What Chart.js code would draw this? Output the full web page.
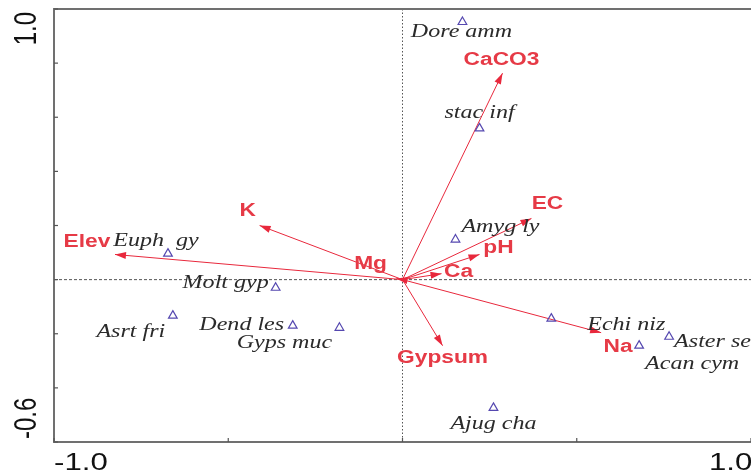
<!DOCTYPE html>
<html>
<head>
<meta charset="utf-8">
<script src="https://cdn.jsdelivr.net/npm/chart.js@4/dist/chart.umd.min.js"></script>
<style>
  html, body { margin: 0; padding: 0; background: #fff; }
  #wrap { width: 751px; height: 473px; }
</style>
</head>
<body>
<div id="wrap"><canvas id="cca" width="751" height="473"></canvas></div>
<script>
// species scores (axis 1, axis 2)
const speciesNames = ["Dore amm", "stac inf", "Amyg ly", "Euph  gy", "Molt gyp", "Asrt fri",
  "Dend les", "Gyps muc", "Echi niz", "Acan cym", "Aster se", "Ajug cha"];
const speciesX = [0.172, 0.221, 0.152, -0.673, -0.364, -0.659, -0.315, -0.181, 0.427, 0.679, 0.765, 0.261];
const speciesY = [0.952, 0.559, 0.148, 0.096, -0.030, -0.133, -0.170, -0.178, -0.144, -0.244, -0.211, -0.474];

// environmental variable arrows (tip coordinates)
const envNames = ["CaCO3", "EC", "pH", "Ca", "Mg", "Elev", "K", "Gypsum", "Na"];
const envX = [0.287, 0.370, 0.221, 0.112, -0.017, -0.825, -0.410, 0.115, 0.570];
const envY = [0.763, 0.226, 0.093, 0.022, 0.004, 0.093, 0.200, -0.244, -0.196];

const xTicks = [-1.0, -0.5, 0, 0.5, 1.0];
const yTicks = [1.0, 0.8, 0.6, 0.4, 0.2, 0, -0.2, -0.4, -0.6];
const xTickLabels = ["-1.0", "1.0"];
const yTickLabels = ["1.0", "-0.6"];

// label placement (pixel offsets from the mark), layout only
const speciesLabelOffset = [[-1, 10], [0, -15], [45, -12], [-12, -13], [-50, -5], [-42, 17],
  [-51, 0], [-55, 15], [75, 7], [53, 18], [null, 5], [0, 16]];
const envLabelOffset = [[-1, -13], [16, -14], [19, -6], [17, -1], [-26, -14], [-28, -12], [-12, -14], [0, 13], [17, 15]];

const SX = 1.3; // horizontal stretch of the original picture's text
const RED_LINE = "#e8283c";
const RED_TEXT = "#e63a46";
const AXIS = "#707070";

function stretchedText(ctx, text, x, y, font, color, align) {
  ctx.save();
  ctx.translate(x, y);
  ctx.scale(SX, 1);
  ctx.font = font;
  ctx.fillStyle = color;
  ctx.textAlign = align || "center";
  ctx.textBaseline = "middle";
  ctx.fillText(text, 0, 0);
  ctx.restore();
}

const ordination = {
  id: "ordination",
  beforeDatasetsDraw(chart) {
    const { ctx, chartArea: a, scales: { x, y } } = chart;
    const x0 = x.getPixelForValue(0), y0 = y.getPixelForValue(0);
    ctx.save();
    // zero lines
    ctx.strokeStyle = "#555";
    ctx.lineWidth = 1;
    ctx.setLineDash([1.5, 2]);
    ctx.beginPath(); ctx.moveTo(x0, a.top); ctx.lineTo(x0, a.bottom); ctx.stroke();
    ctx.setLineDash([3, 2]);
    ctx.beginPath(); ctx.moveTo(a.left, y0); ctx.lineTo(a.right, y0); ctx.stroke();
    ctx.setLineDash([]);
    // frame
    ctx.strokeStyle = AXIS;
    ctx.lineWidth = 2;
    ctx.beginPath();
    ctx.moveTo(a.right + 2, a.top); ctx.lineTo(a.left, a.top); ctx.lineTo(a.left, a.bottom); ctx.lineTo(a.right + 2, a.bottom);
    ctx.stroke();
    // inward ticks
    ctx.lineWidth = 1.2;
    ctx.strokeStyle = "#555";
    yTicks.forEach(v => {
      const py = y.getPixelForValue(v);
      ctx.beginPath(); ctx.moveTo(a.left, py); ctx.lineTo(a.left + 4, py); ctx.stroke();
    });
    xTicks.forEach(v => {
      const px = x.getPixelForValue(v);
      ctx.beginPath(); ctx.moveTo(px, a.bottom); ctx.lineTo(px, a.bottom - 4); ctx.stroke();
    });
    // tick labels (only extremes, as in the original)
    const tf = "24px Arial, 'Liberation Sans', sans-serif";
    stretchedText(ctx, xTickLabels[0], x.getPixelForValue(-1.0), a.bottom + 21, tf, "#111", "left");
    stretchedText(ctx, xTickLabels[1], x.getPixelForValue(1.0) - 42, a.bottom + 21, tf, "#111", "left");
    [[yTickLabels[0], y.getPixelForValue(1.0) + 3, "right"], [yTickLabels[1], y.getPixelForValue(-0.6) - 3, "left"]].forEach(([t, py, al]) => {
      ctx.save();
      ctx.translate(a.left - 27, py);
      ctx.scale(SX, 1);
      ctx.rotate(-Math.PI / 2);
      ctx.font = tf;
      ctx.fillStyle = "#111";
      ctx.textAlign = al;
      ctx.textBaseline = "middle";
      ctx.fillText(t, 0, 0);
      ctx.restore();
    });
    // arrows
    envNames.forEach((n, i) => {
      const tx = x.getPixelForValue(envX[i]), ty = y.getPixelForValue(envY[i]);
      const ang = Math.atan2(ty - y0, tx - x0);
      ctx.strokeStyle = RED_LINE;
      ctx.lineWidth = 1;
      ctx.beginPath(); ctx.moveTo(x0, y0); ctx.lineTo(tx, ty); ctx.stroke();
      ctx.fillStyle = RED_LINE;
      ctx.beginPath();
      ctx.moveTo(tx, ty);
      ctx.lineTo(tx - 11 * Math.cos(ang) + 3.5 * Math.sin(ang), ty - 11 * Math.sin(ang) - 3.5 * Math.cos(ang));
      ctx.lineTo(tx - 11 * Math.cos(ang) - 3.5 * Math.sin(ang), ty - 11 * Math.sin(ang) + 3.5 * Math.cos(ang));
      ctx.closePath();
      ctx.fill();
    });
    ctx.restore();
  },
  afterDatasetsDraw(chart) {
    const { ctx, scales: { x, y } } = chart;
    const sf = "italic 18.5px 'Liberation Serif', 'Times New Roman', serif";
    speciesNames.forEach((n, i) => {
      const px = x.getPixelForValue(speciesX[i]), py = y.getPixelForValue(speciesY[i]);
      const [dx, dy] = speciesLabelOffset[i];
      if (dx === null) stretchedText(ctx, n, px + 5, py + dy, sf, "#2b2b2b", "left");
      else stretchedText(ctx, n, px + dx, py + dy, sf, "#2b2b2b", "center");
    });
    const ef = "bold 17.5px Arial, 'Liberation Sans', sans-serif";
    envNames.forEach((n, i) => {
      const px = x.getPixelForValue(envX[i]), py = y.getPixelForValue(envY[i]);
      const [dx, dy] = envLabelOffset[i];
      stretchedText(ctx, n, px + dx, py + dy, ef, RED_TEXT, "center");
    });
  }
};

new Chart(document.getElementById("cca"), {
  type: "scatter",
  data: {
    datasets: [{
      label: "Species",
      data: speciesX.map((v, i) => ({ x: v, y: speciesY[i] })),
      pointStyle: "triangle",
      radius: 5,
      borderWidth: 1.2,
      borderColor: "#5548b0",
      backgroundColor: "rgba(0,0,0,0)",
    }],
  },
  options: {
    responsive: false,
    animation: false,
    devicePixelRatio: 1,
    layout: { autoPadding: false, padding: { left: 54, right: 0, top: 9, bottom: 31 } },
    plugins: { legend: { display: false }, tooltip: { enabled: false } },
    scales: {
      x: { type: "linear", min: -1.0, max: 1.0, display: false },
      y: { type: "linear", min: -0.6, max: 1.0, display: false },
    },
  },
  plugins: [ordination],
});
</script>
</body>
</html>
